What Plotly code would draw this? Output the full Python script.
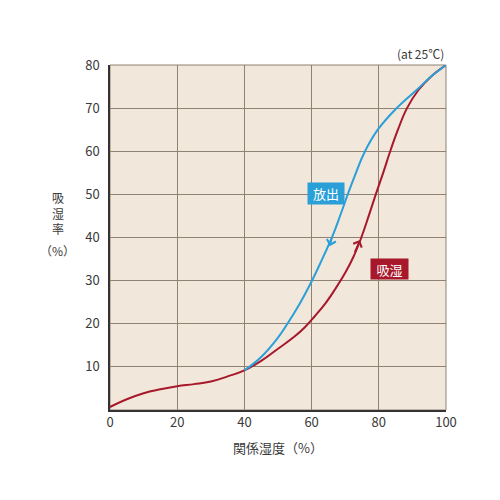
import plotly.graph_objects as go

# Adsorption (吸湿) curve readings
ads_x = [0, 5, 10, 15, 20, 25, 30, 35, 40, 45, 50, 55, 58, 61, 64, 67, 70, 72.5, 74.8, 77, 79.1, 81.3, 83.4, 85.7, 88.4, 91.8, 95.5, 100]
ads_y = [0.7, 2.5, 3.9, 4.8, 5.5, 6.0, 6.6, 7.8, 9.2, 11.4, 14.2, 17.1, 19.2, 21.8, 24.6, 28.0, 31.8, 35.6, 40, 45.0, 50, 55, 60, 65, 70, 74.2, 77.3, 80]

# Desorption (放出) curve readings
des_x = [40, 45, 50, 52.8, 56.5, 59.8, 62.8, 66.3, 68.7, 71.0, 73.2, 75.9, 79.7, 85.3, 91.5, 96, 100]
des_y = [9.2, 12.3, 16.8, 20, 24.7, 29.5, 34.4, 40.5, 45.5, 50.5, 55, 60, 65, 70, 74.4, 77.6, 80]

# arrow tips / tails on each curve
des_arrow_tip = (65.4, 38.0)
des_arrow_tail = (66.3, 40.5)
ads_arrow_tip = (74.4, 39.4)
ads_arrow_tail = (72.6, 36.3)

# label positions
des_label = (64.3, 50.1)
ads_label = (83.3, 32.6)

x_ticks = [0, 20, 40, 60, 80, 100]
y_ticks = [10, 20, 30, 40, 50, 60, 70, 80]

RED = "#a8182b"
BLUE = "#2a9fd8"
FONT = "Noto Sans CJK JP"
TXT = "#3a3a3a"

fig = go.Figure()
fig.add_trace(go.Scatter(x=ads_x, y=ads_y, mode="lines",
                         line=dict(color=RED, width=2, shape="spline", smoothing=1.2),
                         hoverinfo="skip", showlegend=False))
fig.add_trace(go.Scatter(x=des_x, y=des_y, mode="lines",
                         line=dict(color=BLUE, width=2, shape="spline", smoothing=1.2),
                         hoverinfo="skip", showlegend=False))

# small arrows
fig.add_annotation(x=des_arrow_tip[0], y=des_arrow_tip[1], ax=des_arrow_tail[0], ay=des_arrow_tail[1],
                   xref="x", yref="y", axref="x", ayref="y", text="", showarrow=True,
                   arrowhead=4, arrowsize=1.2, arrowwidth=1.5, arrowcolor=BLUE)
fig.add_annotation(x=ads_arrow_tip[0], y=ads_arrow_tip[1], ax=ads_arrow_tail[0], ay=ads_arrow_tail[1],
                   xref="x", yref="y", axref="x", ayref="y", text="", showarrow=True,
                   arrowhead=4, arrowsize=1.2, arrowwidth=1.5, arrowcolor=RED)

# series labels
fig.add_annotation(x=des_label[0], y=des_label[1], xref="x", yref="y", text="放出", showarrow=False,
                   font=dict(family=FONT, size=13, color="white"), bgcolor=BLUE,
                   borderpad=2, width=32, height=17)
fig.add_annotation(x=ads_label[0], y=ads_label[1], xref="x", yref="y", text="吸湿", showarrow=False,
                   font=dict(family=FONT, size=13, color="white"), bgcolor=RED,
                   borderpad=2, width=33, height=16)

# y-axis title (vertical)
fig.add_annotation(xref="paper", yref="paper", x=-0.155, y=0.572, text="吸<br>湿<br>率",
                   showarrow=False, font=dict(family=FONT, size=12, color=TXT),
                   xanchor="center", yanchor="middle")
fig.add_annotation(xref="paper", yref="paper", x=-0.155, y=0.462, text="（%）",
                   showarrow=False, font=dict(family=FONT, size=12, color=TXT),
                   xanchor="center", yanchor="middle")
# condition note
fig.add_annotation(xref="paper", yref="paper", x=1.0, y=1.0, text="(at 25℃)",
                   showarrow=False, font=dict(family=FONT, size=12, color=TXT),
                   xanchor="right", yanchor="bottom", yshift=1)

fig.update_layout(
    width=500, height=500,
    margin=dict(l=102, r=62, t=57, b=98),
    paper_bgcolor="white",
    plot_bgcolor="#f1e7db",
    font=dict(family=FONT, size=13, color=TXT),
    xaxis=dict(range=[0, 100], tickvals=x_ticks, showgrid=True, gridcolor="#8f8273", gridwidth=1,
               showline=True, linecolor="#333", linewidth=1.5, zeroline=False, ticks="",
               title=dict(text="関係湿度（%）", font=dict(family=FONT, size=13, color=TXT), standoff=14),
               tickfont=dict(family=FONT, size=13, color=TXT)),
    yaxis=dict(range=[0, 80], tickvals=y_ticks, showgrid=True, gridcolor="#8f8273", gridwidth=1,
               showline=True, linecolor="#333", linewidth=1.5, zeroline=False, ticks="",
               ticklabelstandoff=6,
               tickfont=dict(family=FONT, size=13, color=TXT)),
)
# plot-area border on top and right
fig.add_shape(type="rect", xref="paper", yref="paper", x0=0, y0=0, x1=1, y1=1,
              line=dict(color="#8f8273", width=1), layer="below")

fig.write_html("out.html")
